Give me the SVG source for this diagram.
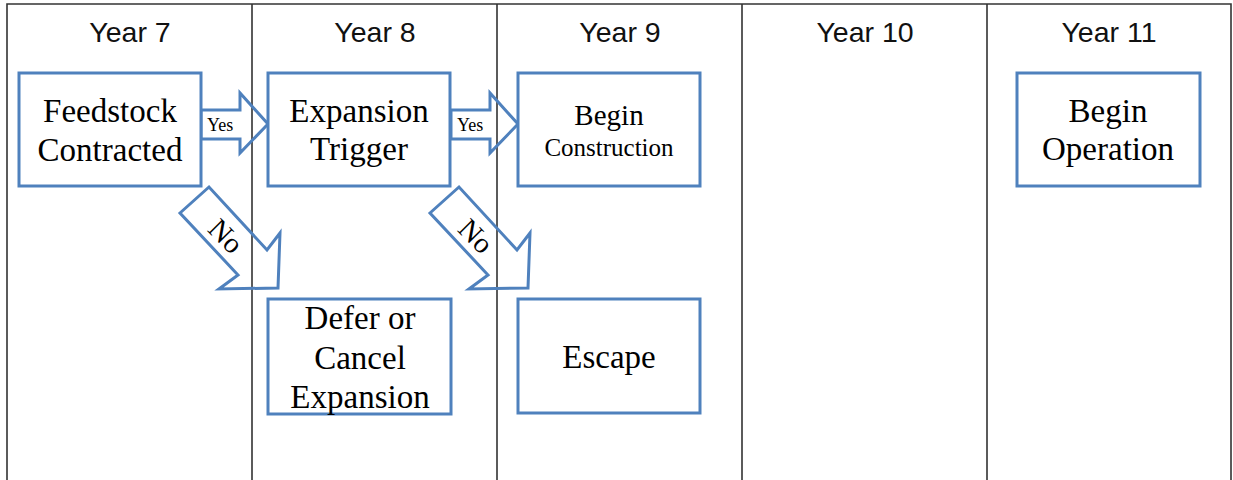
<svg xmlns="http://www.w3.org/2000/svg" width="1233" height="480" viewBox="0 0 1233 480">
<style>
.grid{stroke:#333;stroke-width:1.6;fill:none}
.box{fill:#fff;stroke:#4F81BD;stroke-width:3}
.arr{fill:none;stroke:#4F81BD;stroke-width:3;stroke-linejoin:miter}
.yr{font-family:"Liberation Sans",Arial,sans-serif;font-size:28.5px;fill:#111;text-anchor:middle}
.t{font-family:"Liberation Serif","Times New Roman",serif;font-size:33px;fill:#000;text-anchor:middle}
.lbl{font-family:"Liberation Serif","Times New Roman",serif;fill:#000}
.yes{font-size:18px}
.no{font-size:29px;text-anchor:middle}
</style>
<rect width="1233" height="480" fill="#fff"/>
<g id="table">
<path class="grid" d="M7,480V4H1231V480"/>
<path class="grid" d="M252,4V480M497,4V480M742,4V480M987,4V480"/>
<text class="yr" x="130" y="42">Year 7</text>
<text class="yr" x="375" y="42">Year 8</text>
<text class="yr" x="620" y="42">Year 9</text>
<text class="yr" x="865" y="42">Year 10</text>
<text class="yr" x="1109" y="42">Year 11</text>
</g>
<g id="connectors">
<polygon class="arr" points="201,110 240,110 240,93 268,124 240,153 240,139 201,139"/>
<text class="lbl yes" x="207" y="131">Yes</text>
<polygon class="arr" points="451,110 490,110 490,93 518,124 490,153 490,139 451,139"/>
<text class="lbl yes" x="457" y="131">Yes</text>
<polygon class="arr" points="180,213 209,187 267,250 280,233 278,288 219,289 238,275"/>
<text class="lbl no" transform="translate(226,236) rotate(45)" y="10">No</text>
<polygon class="arr" points="430,213 459,187 517,250 530,233 528,288 469,289 488,275"/>
<text class="lbl no" transform="translate(476,236) rotate(45)" y="10">No</text>
</g>
<g id="feedstock">
<rect class="box" x="19" y="73" width="182" height="113"/>
<text class="t" x="110" y="122">Feedstock</text>
<text class="t" x="110" y="161">Contracted</text>
</g>
<g id="expansion-trigger">
<rect class="box" x="268" y="73" width="182" height="113"/>
<text class="t" x="359" y="122">Expansion</text>
<text class="t" x="359" y="160">Trigger</text>
</g>
<g id="begin-construction">
<rect class="box" x="518" y="73" width="182" height="113"/>
<text class="t" x="609" y="125" style="font-size:29px">Begin</text>
<text class="t" x="609" y="156" style="font-size:25px">Construction</text>
</g>
<g id="begin-operation">
<rect class="box" x="1017" y="73" width="183" height="113"/>
<text class="t" x="1108" y="122">Begin</text>
<text class="t" x="1108" y="160">Operation</text>
</g>
<g id="defer">
<rect class="box" x="268" y="299" width="183" height="115"/>
<text class="t" x="360" y="329">Defer or</text>
<text class="t" x="360" y="369">Cancel</text>
<text class="t" x="360" y="408">Expansion</text>
</g>
<g id="escape">
<rect class="box" x="518" y="299" width="182" height="114"/>
<text class="t" x="609" y="368">Escape</text>
</g>
</svg>
